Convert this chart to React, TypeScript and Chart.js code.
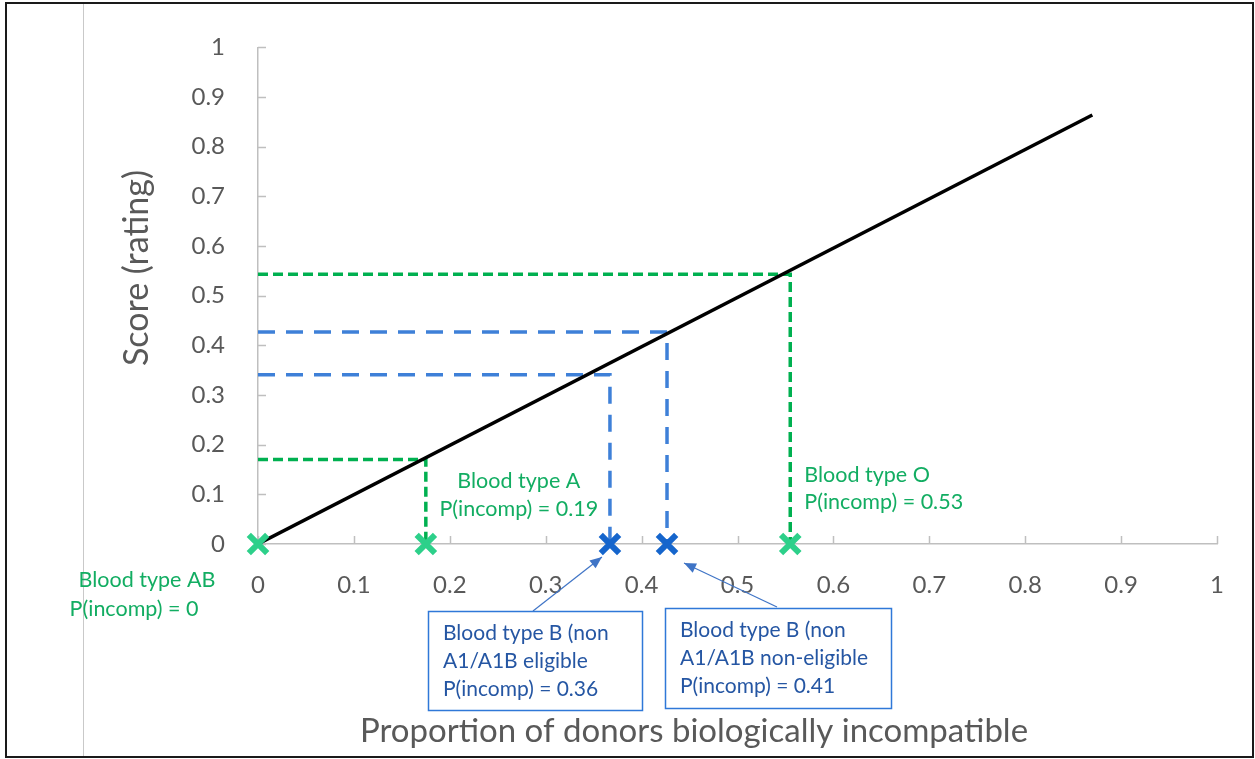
import React, { useEffect, useRef } from "react";
import { Chart, registerables } from "chart.js";

Chart.register(...registerables);

// ---- data ----
const lineX = [0, 0.87];
const lineY = [0, 0.864];
const groupNames = ["AB", "A", "B (eligible)", "B (non-eligible)", "O"];
const markerX = [0, 0.175, 0.367, 0.4265, 0.555];
const guideY = [0, 0.17, 0.341, 0.427, 0.543];
const groupKind = ["green", "green", "blue", "blue", "green"];
const xTickValues = [0, 0.1, 0.2, 0.3, 0.4, 0.5, 0.6, 0.7, 0.8, 0.9, 1];
const yTickValues = [0, 0.1, 0.2, 0.3, 0.4, 0.5, 0.6, 0.7, 0.8, 0.9, 1];
const xTitle = "Proportion of donors biologically incompatible";
const yTitle = "Score (rating)";
const labelAB = ["Blood type AB", "P(incomp) = 0"];
const labelA = ["Blood type A", "P(incomp) = 0.19"];
const labelO = ["Blood type O", "P(incomp) = 0.53"];
const boxB1 = ["Blood type B (non", "A1/A1B eligible", "P(incomp) = 0.36"];
const boxB2 = ["Blood type B (non", "A1/A1B non-eligible", "P(incomp) = 0.41"];

const FONT = "Lato, 'Open Sans', sans-serif";
const GREEN_LINE = "#00B050";
const GREEN_MARK = "#2DD08A";
const GREEN_TEXT = "#12AD62";
const BLUE_LINE = "#3E80D8";
const BLUE_MARK = "#1565CC";
const BLUE_TEXT = "#2556A3";
const BLUE_BOX = "#2F78D8";
const AXIS = "#BFBFBF";
const TICK_TEXT = "#595959";

const decorPlugin = {
  id: "decor",
  beforeDraw(chart: any) {
    const ctx = chart.ctx;
    ctx.save();
    ctx.fillStyle = "#ffffff";
    ctx.fillRect(0, 0, chart.width, chart.height);
    ctx.strokeStyle = "#C9C9C9";
    ctx.lineWidth = 1;
    ctx.beginPath();
    ctx.moveTo(83.5, 4);
    ctx.lineTo(83.5, 756);
    ctx.stroke();
    ctx.restore();
  },
  beforeDatasetsDraw(chart: any) {
    const ctx = chart.ctx;
    const xs = chart.scales.x;
    const ys = chart.scales.y;
    const ca = chart.chartArea;
    ctx.save();
    ctx.strokeStyle = AXIS;
    ctx.lineWidth = 1.5;
    ctx.beginPath();
    xTickValues.forEach((v) => {
      const px = Math.round(xs.getPixelForValue(v)) + 0.5;
      ctx.moveTo(px, ca.bottom);
      ctx.lineTo(px, ca.bottom - 8);
    });
    yTickValues.forEach((v) => {
      const py = Math.round(ys.getPixelForValue(v)) + 0.5;
      ctx.moveTo(ca.left, py);
      ctx.lineTo(ca.left + 8, py);
    });
    ctx.stroke();
    ctx.restore();
  },
  afterDraw(chart: any) {
    const ctx = chart.ctx;
    const xs = chart.scales.x;
    const ys = chart.scales.y;
    const px = (i: number) => xs.getPixelForValue(markerX[i]);
    const py0 = ys.getPixelForValue(0);
    ctx.save();
    ctx.textBaseline = "middle";

    // axis titles
    ctx.fillStyle = TICK_TEXT;
    ctx.font = `33px ${FONT}`;
    ctx.textAlign = "center";
    ctx.fillText(xTitle, 694, 731);
    ctx.save();
    ctx.translate(137, 268);
    ctx.rotate(-Math.PI / 2);
    ctx.font = `34px ${FONT}`;
    ctx.fillText(yTitle, 0, 0);
    ctx.restore();

    // green labels
    ctx.fillStyle = GREEN_TEXT;
    ctx.font = `21.5px ${FONT}`;
    ctx.textAlign = "center";
    ctx.fillText(labelAB[0], px(0) - 111, py0 + 36);
    ctx.fillText(labelAB[1], px(0) - 124, py0 + 65);
    ctx.fillText(labelA[0], px(1) + 93, py0 - 63);
    ctx.fillText(labelA[1], px(1) + 93, py0 - 35);
    ctx.textAlign = "left";
    ctx.fillText(labelO[0], px(4) + 14, py0 - 69);
    ctx.fillText(labelO[1], px(4) + 14, py0 - 42);

    // blue boxes
    const drawBox = (lines: string[], left: number, top: number, w: number, h: number) => {
      ctx.strokeStyle = BLUE_BOX;
      ctx.lineWidth = 1.5;
      ctx.strokeRect(left + 0.5, top + 0.5, w, h);
      ctx.fillStyle = BLUE_TEXT;
      ctx.font = `21px ${FONT}`;
      ctx.textAlign = "left";
      lines.forEach((t, k) => ctx.fillText(t, left + 15, top + 22 + k * 28));
    };
    drawBox(boxB1, 428, 611, 214, 99);
    drawBox(boxB2, 665, 608, 226, 100);

    // arrows
    const arrow = (x1: number, y1: number, x2: number, y2: number) => {
      ctx.strokeStyle = "#3F74C6";
      ctx.fillStyle = "#3F74C6";
      ctx.lineWidth = 1.2;
      ctx.beginPath();
      ctx.moveTo(x1, y1);
      ctx.lineTo(x2, y2);
      ctx.stroke();
      const a = Math.atan2(y2 - y1, x2 - x1);
      const L = 12, W = 5;
      ctx.beginPath();
      ctx.moveTo(x2, y2);
      ctx.lineTo(x2 - L * Math.cos(a) + W * Math.sin(a), y2 - L * Math.sin(a) - W * Math.cos(a));
      ctx.lineTo(x2 - L * Math.cos(a) - W * Math.sin(a), y2 - L * Math.sin(a) + W * Math.cos(a));
      ctx.closePath();
      ctx.fill();
    };
    arrow(533, 611, px(2) - 8, py0 + 13);
    arrow(777, 607, px(3) + 17, py0 + 19);

    // frame
    ctx.strokeStyle = "#1a1a1a";
    ctx.lineWidth = 2;
    ctx.strokeRect(6, 3, 1247, 754);
    ctx.restore();
  },
};

export default function App() {
  const ref = useRef<HTMLCanvasElement | null>(null);
  useEffect(() => {
    if (!ref.current) return;
    const guideSets = markerX.map((mx, i) => ({
      label: groupNames[i] + " guide",
      data: [
        { x: 0, y: guideY[i] },
        { x: mx, y: guideY[i] },
        { x: mx, y: 0 },
      ],
      showLine: true,
      borderColor: groupKind[i] === "green" ? GREEN_LINE : BLUE_LINE,
      borderWidth: 3.5,
      borderDash: groupKind[i] === "green" ? [10, 5] : [17, 11],
      pointRadius: 0,
      order: 2,
    }));
    const chart = new Chart(ref.current, {
      type: "scatter",
      data: {
        datasets: [
          {
            label: "markers",
            data: markerX.map((x) => ({ x, y: 0 })),
            pointStyle: "crossRot",
            pointRadius: 13,
            pointBorderWidth: 6,
            pointBorderColor: groupKind.map((k) => (k === "green" ? GREEN_MARK : BLUE_MARK)),
            pointBackgroundColor: groupKind.map((k) => (k === "green" ? GREEN_MARK : BLUE_MARK)),
            showLine: false,
            clip: false,
            order: 0,
          } as any,
          {
            label: "score",
            data: lineX.map((x, i) => ({ x, y: lineY[i] })),
            showLine: true,
            borderColor: "#000000",
            borderWidth: 3.5,
            pointRadius: 0,
            order: 1,
          },
          ...guideSets,
        ],
      },
      options: {
        responsive: false,
        animation: false,
        layout: { padding: { left: 0, top: 45, right: 38, bottom: 0 } },
        plugins: { legend: { display: false }, tooltip: { enabled: false } },
        scales: {
          x: {
            type: "linear",
            min: 0,
            max: 1,
            afterFit: (s: any) => {
              s.height = 759 - 544;
            },
            afterBuildTicks: (s: any) => {
              s.ticks = xTickValues.map((v) => ({ value: v }));
            },
            ticks: {
              color: TICK_TEXT,
              font: { family: FONT, size: 24 },
              padding: 27,
              callback: (v: any) => String(Number(Number(v).toFixed(1))),
              maxRotation: 0,
            },
            grid: { display: true, drawOnChartArea: false, drawTicks: false },
            border: { display: true, color: AXIS, width: 1.5 },
          },
          y: {
            type: "linear",
            min: 0,
            max: 1,
            afterFit: (s: any) => {
              s.width = 258;
            },
            afterBuildTicks: (s: any) => {
              s.ticks = yTickValues.map((v) => ({ value: v }));
            },
            ticks: {
              color: TICK_TEXT,
              font: { family: FONT, size: 24 },
              padding: 33,
              callback: (v: any) => String(Number(Number(v).toFixed(1))),
            },
            grid: { display: true, drawOnChartArea: false, drawTicks: false },
            border: { display: true, color: AXIS, width: 1.5 },
          },
        },
      },
      plugins: [decorPlugin],
    } as any);
    return () => chart.destroy();
  }, []);
  return (
    <div style={{ position: "fixed", left: 0, top: 0, width: 1255, height: 759, background: "#fff" }}>
      <canvas ref={ref} width={1255} height={759} style={{ display: "block" }} />
    </div>
  );
}
